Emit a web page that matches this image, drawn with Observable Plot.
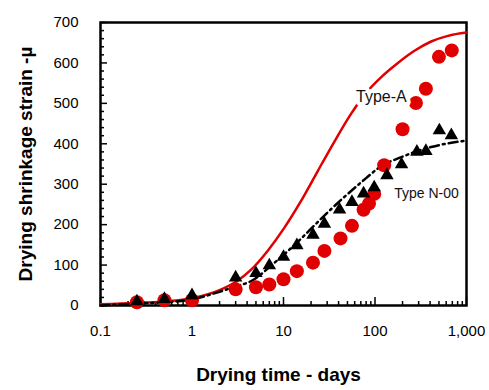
<!DOCTYPE html>
<html><head><meta charset="utf-8">
<script src="https://cdn.jsdelivr.net/npm/d3@7"></script>
<script src="https://cdn.jsdelivr.net/npm/@observablehq/plot@0.6"></script>
<style>body{margin:0;background:#fff}</style>
</head><body><div id="chart"></div>
<script>
// Measured data: Type-A (red circles)
const daysA = [0.25, 0.5, 1, 3, 5, 7, 10, 14, 21, 28, 42, 56, 75, 86, 98, 126, 200, 280, 360, 500, 690];
const strainA = [8, 13, 13, 40, 45, 52, 65, 85, 106, 135, 166, 197, 237, 252, 276, 347, 436, 501, 536, 615, 631];
// Type N-00 (black triangles)
const daysN = [0.25, 0.5, 1, 3, 5, 7, 10, 14, 21, 28, 41, 56, 75, 98, 135, 195, 287, 360, 505, 683];
const strainN = [10, 16, 25, 69, 80, 99, 120, 149, 175, 202, 237, 256, 277, 292, 322, 349, 380, 382, 433, 421];
// Model curves
const curveADays = [0.1, 0.25, 0.5, 1, 2, 3, 4.4, 6.7, 10.2, 15.5, 23.6, 35.9, 54.7, 80, 117, 178, 270, 411, 627, 1000];
const curveAStrain = [3, 6, 10, 18, 38, 58, 88, 135, 192, 258, 332, 405, 474, 526, 565, 600, 630, 653, 667, 675];
const curveNDays = [0.1, 0.25, 0.5, 1, 2, 3, 4.4, 7.9, 15.5, 23.6, 33, 46, 80, 112, 194, 411, 1000];
const curveNStrain = [0, 5, 8, 15, 34, 47, 60, 105, 165, 206, 238, 268, 315, 342, 367, 392, 408];
// Ticks
const xTicks = [0.1, 1, 10, 100, 1000];
const xMinor = [2,3,4,5,6,7,8,9].flatMap(k => [0.1*k, k, 10*k, 100*k]);
const yTicks = [0, 100, 200, 300, 400, 500, 600, 700];
const yMinor = d3.range(20, 700, 20).filter(v => v % 100 !== 0);
// Labels
const labelA = {text: "Type-A", x: 62, y: 515};
const labelN = {text: "Type N-00", x: 162, y: 277};

const red = "#e00000";
const zip = (xs, ys) => xs.map((x, i) => ({x, y: ys[i]}));
const W = 489, H = 390, mL = 100, mR = 23, mT = 22, mB = 85;
const pw = W - mL - mR, ph = H - mT - mB;

const chart = Plot.plot({
  width: W, height: H,
  marginLeft: mL, marginRight: mR, marginTop: mT, marginBottom: mB,
  x: {type: "log", domain: [0.1, 1000]},
  y: {domain: [0, 700]},
  style: {fontFamily: "'Liberation Sans', Arial, sans-serif", background: "white", color: "black", overflow: "visible"},
  marks: [
    Plot.axisX({ticks: xTicks, tickSize: 0, tickPadding: 20, tickFormat: d3.format(","), fontSize: 15, label: null}),
    Plot.axisY({ticks: yTicks, tickSize: 0, tickPadding: 22, fontSize: 15, label: null}),
    Plot.tickX(xTicks, {x: d => d, insetTop: ph - 8, stroke: "black", strokeWidth: 1.5}),
    Plot.tickX(xMinor, {x: d => d, insetTop: ph - 4, stroke: "black", strokeWidth: 1.5}),
    Plot.tickY(yTicks, {y: d => d, insetRight: pw - 7, stroke: "black", strokeWidth: 1.5}),
    Plot.tickY(yMinor, {y: d => d, insetRight: pw - 4, stroke: "black", strokeWidth: 1.5}),
    Plot.frame({stroke: "black", strokeWidth: 2.5}),
    Plot.line(zip(curveADays, curveAStrain), {x: "x", y: "y", stroke: red, strokeWidth: 2.5, curve: "monotone-x"}),
    Plot.line(zip(curveNDays, curveNStrain), {x: "x", y: "y", stroke: "black", strokeWidth: 2.5, strokeDasharray: "9,4,2,4", curve: "monotone-x"}),
    Plot.dot(zip(daysA, strainA), {x: "x", y: "y", r: 7, fill: red}),
    Plot.dot(zip(daysN, strainN), {x: "x", y: "y", r: 5, symbol: "triangle", fill: "black"}),
    Plot.text([labelA], {x: "x", y: "y", text: "text", textAnchor: "start", fontSize: 16, fill: "#111", stroke: "white", strokeWidth: 8}),
    Plot.text([labelN], {x: "x", y: "y", text: "text", textAnchor: "start", fontSize: 14, fill: "#111"}),
    Plot.text(["Drying time - days"], {text: d => d, frameAnchor: "bottom", textAnchor: "middle", dy: 75, dx: -5, fontSize: 19, fontWeight: "bold"}),
    Plot.text(["Drying shrinkage strain -µ"], {text: d => d, frameAnchor: "left", textAnchor: "middle", dx: -75, rotate: -90, fontSize: 19, fontWeight: "bold"})
  ]
});
document.getElementById("chart").appendChild(chart);
</script>
</body></html>
